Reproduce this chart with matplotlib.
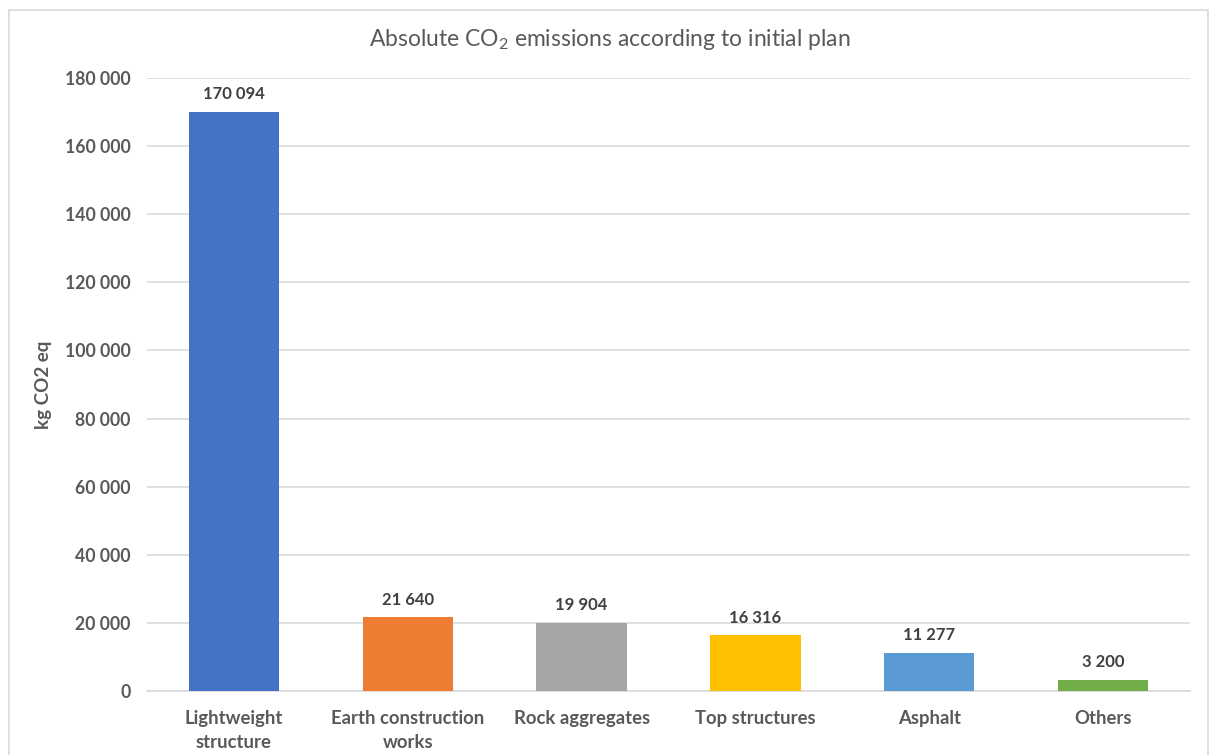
import matplotlib.pyplot as plt
from matplotlib.patches import Rectangle
from matplotlib.ticker import FuncFormatter

categories = ["Lightweight\nstructure", "Earth construction\nworks", "Rock aggregates",
              "Top structures", "Asphalt", "Others"]
values = [170094, 21640, 19904, 16316, 11277, 3200]
colors = ["#4472C4", "#ED7D31", "#A5A5A5", "#FFC000", "#5B9BD5", "#70AD47"]
y_ticks = [0, 20000, 40000, 60000, 80000, 100000, 120000, 140000, 160000, 180000]

plt.rcParams["font.family"] = ["Lato", "DejaVu Sans"]
plt.rcParams["mathtext.fontset"] = "custom"
plt.rcParams["mathtext.rm"] = "Lato"
plt.rcParams["mathtext.it"] = "Lato:italic"
plt.rcParams["mathtext.bf"] = "Lato:bold"

def spaced(v):
    return f"{int(round(v)):,}".replace(",", " ")

fig = plt.figure(figsize=(12.16, 7.55), dpi=100)
fig.patches.append(Rectangle((9 / 1216, -0.05), 1199 / 1216, 1.05 - 10 / 755,
                             transform=fig.transFigure, fill=False,
                             edgecolor="#D9D9D9", linewidth=1.2))

ax = fig.add_axes([147 / 1216, 1 - 691 / 755, 1043 / 1216, (691 - 78) / 755])
x = list(range(len(categories)))
ax.bar(x, values, width=0.52, color=colors, zorder=3)

ax.set_xlim(-0.5, len(categories) - 0.5)
ax.set_ylim(0, 180000)
ax.set_yticks(y_ticks)
ax.yaxis.set_major_formatter(FuncFormatter(lambda v, p: spaced(v)))
ax.set_xticks(x)
ax.set_xticklabels(categories, fontsize=13.3, color="#595959", fontweight="bold",
                   linespacing=1.45)
for lbl in ax.get_yticklabels():
    lbl.set_fontsize(12.7)
    lbl.set_color("#595959")
    lbl.set_fontweight("bold")

ax.grid(axis="y", color="#D9D9D9", linewidth=1.2, zorder=0)
for s in ["top", "right", "left"]:
    ax.spines[s].set_visible(False)
ax.spines["bottom"].set_color("#D9D9D9")
ax.spines["bottom"].set_linewidth(1.2)
ax.tick_params(axis="y", length=0, pad=12)
ax.tick_params(axis="x", length=0, pad=14)

for xi, v in zip(x, values):
    ax.annotate(spaced(v), (xi, v), xytext=(0, 7), textcoords="offset points",
                ha="center", va="bottom", fontsize=12, fontweight="bold",
                color="#404040")

ax.set_ylabel("kg CO2 eq", fontsize=13.5, fontweight="bold", color="#595959",
              labelpad=9)
fig.text(610 / 1216, 1 - 40 / 755, "Absolute CO$_2$ emissions according to initial plan",
         ha="center", va="center", fontsize=16.5, color="#595959")

fig.savefig("out.png", dpi=100)
